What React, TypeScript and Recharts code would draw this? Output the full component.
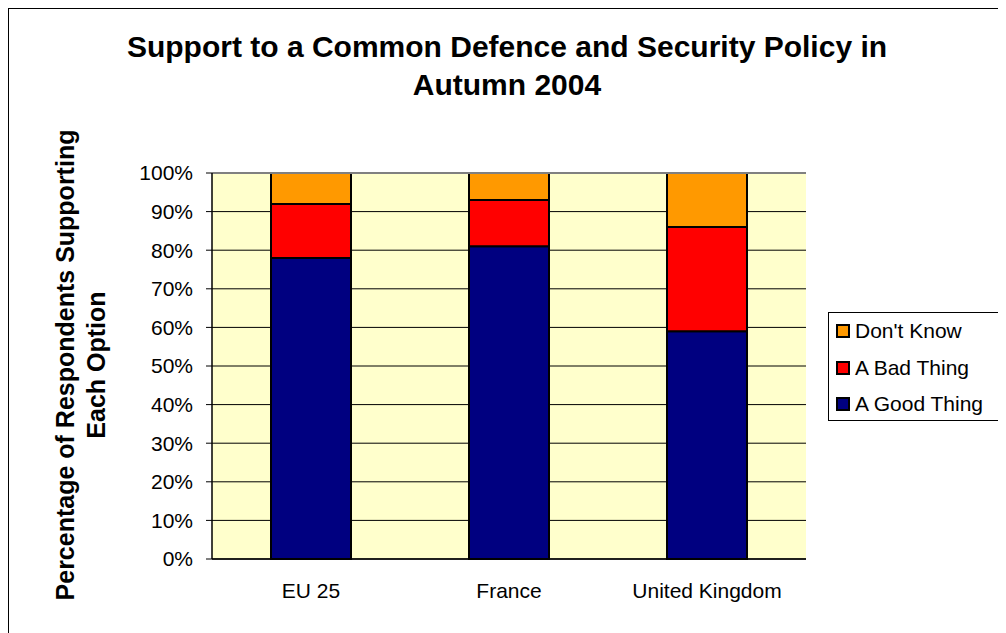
import { Bar, BarChart, CartesianGrid, ReferenceLine, XAxis, YAxis } from 'recharts'

const regions = ['EU 25', 'France', 'United Kingdom']
const goodThing = [78, 81, 59]
const badThing = [14, 12, 27]
const dontKnow = [8, 7, 14]
const yTicks = [0, 10, 20, 30, 40, 50, 60, 70, 80, 90, 100]
const edgeTicks = [0, 1, 2, 3]

const series = [
  { key: 'good', name: 'A Good Thing', color: '#000080' },
  { key: 'bad', name: 'A Bad Thing', color: '#FF0000' },
  { key: 'dk', name: "Don't Know", color: '#FF9900' },
]

const data = regions.map((region, i) => ({
  region,
  good: goodThing[i],
  bad: badThing[i],
  dk: dontKnow[i],
}))

const font = 'Arial, "Liberation Sans", sans-serif'

// legend lists the stack top-down, like the original
function LegendBox() {
  return (
    <div
      style={{
        position: 'absolute',
        left: 819,
        top: 303,
        width: 174,
        height: 107,
        border: '1px solid #000',
        background: '#fff',
        fontSize: 21,
        color: '#000',
      }}
    >
      {[...series].reverse().map((s) => (
        <div key={s.key} style={{ display: 'flex', alignItems: 'center', height: 36.5 }}>
          <span
            style={{
              display: 'inline-block',
              width: 10,
              height: 10,
              background: s.color,
              border: '2px solid #000',
              marginLeft: 7,
              marginRight: 5,
            }}
          />
          <span style={{ whiteSpace: 'nowrap' }}>{s.name}</span>
        </div>
      ))}
    </div>
  )
}

export default function App() {
  return (
    <div
      style={{
        position: 'relative',
        width: 1010,
        height: 640,
        borderLeft: '1px solid #000',
        borderTop: '1px solid #000',
        background: '#fff',
        fontFamily: font,
      }}
    >
      <div
        style={{
          position: 'absolute',
          left: 0,
          top: 19,
          width: 996,
          textAlign: 'center',
          fontWeight: 'bold',
          fontSize: 30,
          lineHeight: '38px',
          color: '#000',
        }}
      >
        Support to a Common Defence and Security Policy in
        <br />
        Autumn 2004
      </div>
      <div
        style={{
          position: 'absolute',
          left: 72 - 300,
          top: 356 - 31,
          width: 600,
          height: 62,
          textAlign: 'center',
          fontWeight: 'bold',
          fontSize: 25,
          lineHeight: '31px',
          color: '#000',
          transform: 'rotate(-90deg)',
          zIndex: 2,
        }}
      >
        Percentage of Respondents Supporting
        <br />
        Each Option
      </div>
      <BarChart
        width={998}
        height={620}
        data={data}
        margin={{ top: 164, right: 201, bottom: 20, left: 0 }}
        barSize={80}
        style={{ position: 'absolute', left: 0, top: 0 }}
      >
        <CartesianGrid vertical={false} stroke="#000" fill="#FFFFCC" fillOpacity={1} />
        <XAxis
          xAxisId="edges"
          type="number"
          domain={[0, 3]}
          ticks={edgeTicks}
          height={0}
          tick={false}
          tickSize={6}
          axisLine={false}
          tickLine={{ stroke: '#000' }}
        />
        <XAxis
          dataKey="region"
          height={50}
          tickSize={6}
          tickMargin={18}
          tickLine={false}
          axisLine={{ stroke: '#000', strokeWidth: 1.5 }}
          tick={{ fill: '#000', fontSize: 21, fontFamily: font }}
        />
        <YAxis
          type="number"
          domain={[0, 100]}
          ticks={yTicks}
          interval={0}
          width={203}
          tickSize={6}
          tickMargin={13}
          tickFormatter={(v: number) => `${v}%`}
          axisLine={{ stroke: '#000', strokeWidth: 1.5 }}
          tickLine={{ stroke: '#000' }}
          tick={{ fill: '#000', fontSize: 21, fontFamily: font }}
        />
        <YAxis
          yAxisId="frame"
          orientation="right"
          domain={[0, 100]}
          width={0}
          tick={false}
          tickLine={false}
          axisLine={{ stroke: '#808080', strokeWidth: 2 }}
        />
        <ReferenceLine y={100} stroke="#808080" strokeWidth={2} />
        {series.map((s) => (
          <Bar
            key={s.key}
            dataKey={s.key}
            name={s.name}
            stackId="a"
            fill={s.color}
            stroke="#000"
            strokeWidth={2}
            isAnimationActive={false}
          />
        ))}
      </BarChart>
      <LegendBox />
    </div>
  )
}
